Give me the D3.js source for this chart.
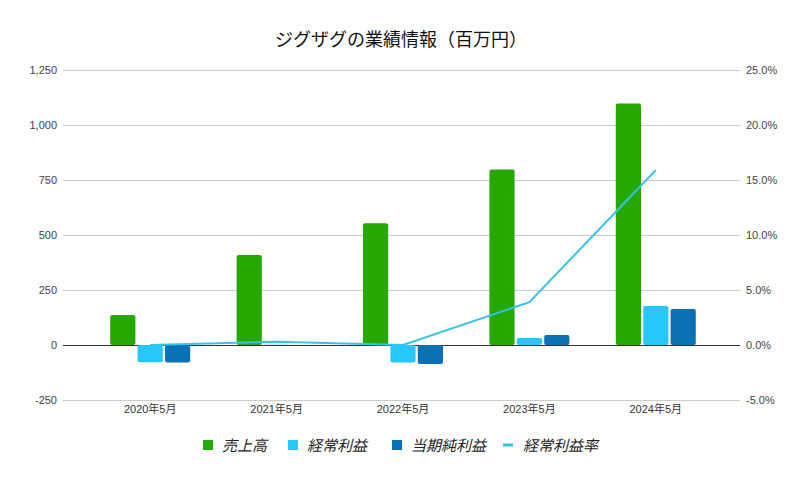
<!DOCTYPE html>
<html>
<head>
<meta charset="utf-8">
<script src="https://cdn.jsdelivr.net/npm/d3@7"></script>
<style>
  body { margin: 0; background: #fff; }
  svg { font-family: "Liberation Sans", Arial, "Noto Sans CJK JP", sans-serif; }
</style>
</head>
<body>
<svg></svg>
<script>
const w = 806;
const h = 479;

// data (百万円)
const periods = ['2020年5月', '2021年5月', '2022年5月', '2023年5月', '2024年5月'];
const sales = [136, 409, 553, 798, 1098];
const ordinaryProfit = [-78, 1, -80, 32, 177];
const netProfit = [-80, 0, -86, 45, 164];
const ordinaryMargin = [0.0, 0.3, 0.0, 3.9, 15.9];

const leftTicks = [-250, 0, 250, 500, 750, 1000, 1250];
const rightTicks = [-5, 0, 5, 10, 15, 20, 25];

const seriesNames = ['売上高', '経常利益', '当期純利益'];
const lineName = '経常利益率';
const colors = ['#25a800', '#27c7fb', '#0b71b6'];
const lineColor = '#35c3ea';

const svg = d3.select('svg').attr('width', w).attr('height', h);

const plotLeft = 63, plotRight = 740;

const yScale = d3.scaleLinear().domain([-250, 1250]).range([400, 70]);
const yRight = d3.scaleLinear().domain([-5, 25]).range([400, 70]);
const xScale = d3.scaleBand().domain(periods).range([87, 719]);
const inner = d3.scaleBand().domain(seriesNames).range([-40, 40]).paddingInner(0.08);

// title
svg.append('text')
	.attr('x', 401).attr('y', 46)
	.attr('text-anchor', 'middle')
	.attr('font-size', 18)
	.attr('font-family', '"Noto Sans CJK JP", sans-serif')
	.attr('fill', '#111')
	.text('ジグザグの業績情報（百万円）');

// gridlines
svg.append('g').selectAll('line')
	.data(leftTicks)
	.join('line')
	.attr('x1', plotLeft).attr('x2', plotRight)
	.attr('y1', (d) => Math.round(yScale(d)) + 0.5)
	.attr('y2', (d) => Math.round(yScale(d)) + 0.5)
	.attr('stroke', (d) => (d === 0 ? '#333' : '#ccc'))
	.attr('stroke-width', 1);

// left axis labels (plain hyphen for negatives)
const fmt = d3.format(',');
const yAxis = d3.axisLeft(yScale).tickValues(leftTicks)
	.tickFormat((d) => (d < 0 ? '-' + fmt(-d) : fmt(d)))
	.tickSize(0).tickPadding(0);
svg.append('g')
	.attr('transform', `translate(57,0)`)
	.call(yAxis)
	.call((g) => g.select('.domain').remove())
	.call((g) => g.selectAll('text').attr('font-size', 11).attr('fill', '#444').attr('font-family', '"Liberation Sans", Arial, sans-serif'));

// right axis labels
const yAxisR = d3.axisRight(yRight).tickValues(rightTicks).tickFormat((d) => d.toFixed(1) + '%').tickSize(0).tickPadding(0);
svg.append('g')
	.attr('transform', `translate(746,0)`)
	.call(yAxisR)
	.call((g) => g.select('.domain').remove())
	.call((g) => g.selectAll('text').attr('font-size', 11).attr('fill', '#444').attr('font-family', '"Liberation Sans", Arial, sans-serif'));

// x axis labels
const xAxis = d3.axisBottom(xScale).tickSize(0).tickPadding(0);
svg.append('g')
	.attr('transform', `translate(0,405)`)
	.call(xAxis)
	.call((g) => g.select('.domain').remove())
	.call((g) => g.selectAll('text').attr('font-size', 11).attr('fill', '#333').attr('font-family', '"Liberation Sans", "Noto Sans CJK JP", sans-serif'));

// bars
const barData = [sales, ordinaryProfit, netProfit];
barData.forEach((vals, si) => {
	svg.append('g').selectAll('rect')
		.data(vals)
		.join('rect')
		.attr('x', (d, i) => xScale(periods[i]) + xScale.bandwidth() / 2 + inner(seriesNames[si]))
		.attr('width', inner.bandwidth())
		.attr('y', (d) => Math.min(yScale(d), yScale(0)))
		.attr('height', (d) => Math.abs(yScale(d) - yScale(0)))
		.attr('rx', 2)
		.attr('fill', colors[si]);
});

// margin line
const line = d3.line()
	.x((d, i) => xScale(periods[i]) + xScale.bandwidth() / 2)
	.y((d) => yRight(d));
svg.append('path')
	.datum(ordinaryMargin)
	.attr('d', line)
	.attr('fill', 'none')
	.attr('stroke', lineColor)
	.attr('stroke-width', 2);

// legend
const legend = svg.append('g').attr('font-size', 15).attr('fill', '#222')
	.attr('font-style', 'italic')
	.attr('font-family', '"Noto Sans CJK JP", sans-serif');
const legendX = [203, 288, 392];
seriesNames.forEach((name, i) => {
	legend.append('rect').attr('x', legendX[i]).attr('y', 440).attr('width', 10).attr('height', 10).attr('fill', colors[i]);
	legend.append('text').attr('x', legendX[i] + 19).attr('y', 451).text(name);
});
legend.append('line').attr('x1', 503).attr('x2', 513).attr('y1', 445).attr('y2', 445)
	.attr('stroke', lineColor).attr('stroke-width', 3);
legend.append('text').attr('x', 523).attr('y', 451).text(lineName);
</script>
</body>
</html>
